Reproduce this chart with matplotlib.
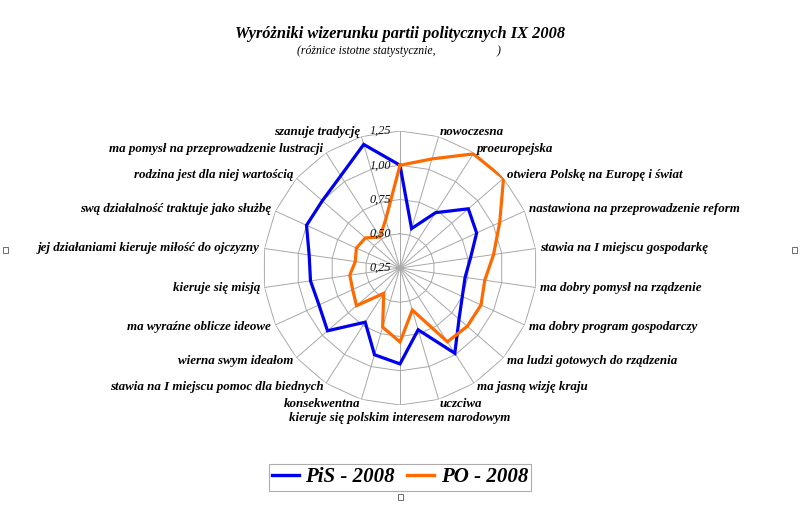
import numpy as np
import matplotlib
matplotlib.use('Agg')
import matplotlib.pyplot as plt
from matplotlib.patches import Rectangle
from matplotlib.lines import Line2D

categories = ['', 'nowoczesna', 'proeuropejska', 'otwiera Polskę na Europę i świat',
              'nastawiona na przeprowadzenie reform', 'stawia na I miejscu gospodarkę',
              'ma dobry pomysł na rządzenie', 'ma dobry program gospodarczy',
              'ma ludzi gotowych do rządzenia', 'ma jasną wizję kraju', 'uczciwa',
              'kieruje się polskim interesem narodowym', 'konsekwentna',
              'stawia na I miejscu pomoc dla biednych', 'wierna swym ideałom',
              'ma wyraźne oblicze ideowe', 'kieruje się misją',
              'jej działaniami kieruje miłość do ojczyzny',
              'swą działalność traktuje jako służbę', 'rodzina jest dla niej wartością',
              'ma pomysł na przeprowadzenie lustracji', 'szanuje tradycję']
pis_2008 = [1.00, 0.55, 0.73, 0.91, 0.865, 0.77, 0.73, 0.75, 0.82, 0.99, 0.72,
            0.95, 0.91, 0.72, 0.95, 0.90, 0.91, 0.92, 1.00, 1.00, 1.05, 1.19]
po_2008 = [1.00, 1.08, 1.24, 1.25, 1.05, 0.94, 0.875, 0.90, 0.90, 0.89, 0.57,
           0.79, 0.70, 0.47, 0.67, 0.63, 0.62, 0.58, 0.60, 0.585, 0.52, 0.62]
r_ticks = [0.25, 0.50, 0.75, 1.00, 1.25]
r_tick_labels = ['0,25', '0,50', '0,75', '1,00', '1,25']
series_names = ['PiS - 2008', 'PO - 2008']
title = 'Wyróżniki wizerunku partii politycznych IX 2008'
subtitle = '(różnice istotne statystycznie,'
subtitle_end = ')'

plt.rcParams['font.family'] = ['Liberation Serif', 'DejaVu Serif']

W, H = 800, 505
fig = plt.figure(figsize=(8, 5.05), dpi=100)
fig.patch.set_facecolor('white')
cx, cy, R = 400, 268, 137
ax = fig.add_axes([(cx - R) / W, (H - cy - R) / H, 2 * R / W, 2 * R / H], projection='polar')
ax.set_theta_zero_location('N')
ax.set_theta_direction(-1)
ax.set_ylim(r_ticks[0], r_ticks[-1])
ax.grid(False)
ax.spines['polar'].set_visible(False)
ax.set_xticks([])
ax.set_yticks([])
ax.patch.set_alpha(0)

n = len(categories)
theta = np.arange(n) * 2 * np.pi / n
tc = np.append(theta, theta[0])
gc = '#a8a8a8'
for lv in r_ticks[1:]:
    ax.plot(tc, [lv] * (n + 1), color=gc, lw=0.7, zorder=1)
for t in theta:
    ax.plot([t, t], [r_ticks[0], r_ticks[-1]], color=gc, lw=0.7, zorder=1)

colors = ['#0000f0', '#ff6a00']
for vals, col in zip([pis_2008, po_2008], colors):
    ax.plot(tc, np.append(vals, vals[0]), color=col, lw=2.3, zorder=3,
            solid_joinstyle='miter')

for v, lab in zip(r_ticks, r_tick_labels):
    ax.annotate(lab, xy=(0, v), xytext=(-6.5, 0), textcoords='offset points',
                ha='right', va='center', fontsize=8.8, fontstyle='italic',
                color='#111111', zorder=4, annotation_clip=False)

off = 3.3
for t, lab in zip(theta, categories):
    if not lab:
        continue
    s, c = np.sin(t), np.cos(t)
    o = off
    if s > 0.01:
        ha, va = 'left', 'center'
    elif s < -0.01:
        ha, va = 'right', 'center'
    else:
        ha, va = 'center', 'top'
        o = 5.2
    ax.annotate(lab, xy=(t, r_ticks[-1]), xytext=(o * s, o * c),
                textcoords='offset points', ha=ha, va=va, fontsize=9.4,
                fontweight='bold', fontstyle='italic', color='black',
                annotation_clip=False)

fig.text(0.5, 1 - 33.5 / H, title, ha='center', va='center', fontsize=11.8,
         fontweight='bold', fontstyle='italic')
fig.text(297 / W, 1 - 51 / H, subtitle, ha='left', va='center', fontsize=8.5,
         fontstyle='italic')
fig.text(500 / W, 1 - 51 / H, subtitle_end, ha='right', va='center', fontsize=8.5,
         fontstyle='italic')

handles = [Line2D([], [], color=col, lw=2.4) for col in colors]
leg = fig.legend(handles, series_names, loc='center', bbox_to_anchor=(0.5, 1 - 477.5 / H),
                 ncol=2, frameon=True, fancybox=False, edgecolor='#999999',
                 prop={'weight': 'bold', 'style': 'italic', 'size': 15},
                 handlelength=1.3, handletextpad=0.3, columnspacing=0.6,
                 borderpad=0.15, borderaxespad=0)
leg.get_frame().set_linewidth(0.8)

for (px, py) in [(5, 250), (794, 250), (400, 497)]:
    fig.add_artist(Rectangle(((px - 2.5) / W, 1 - (py + 3) / H), 5 / W, 6 / H,
                             transform=fig.transFigure, fill=False,
                             edgecolor='#555555', lw=0.6))

fig.savefig('out.png', dpi=100, facecolor='white')
